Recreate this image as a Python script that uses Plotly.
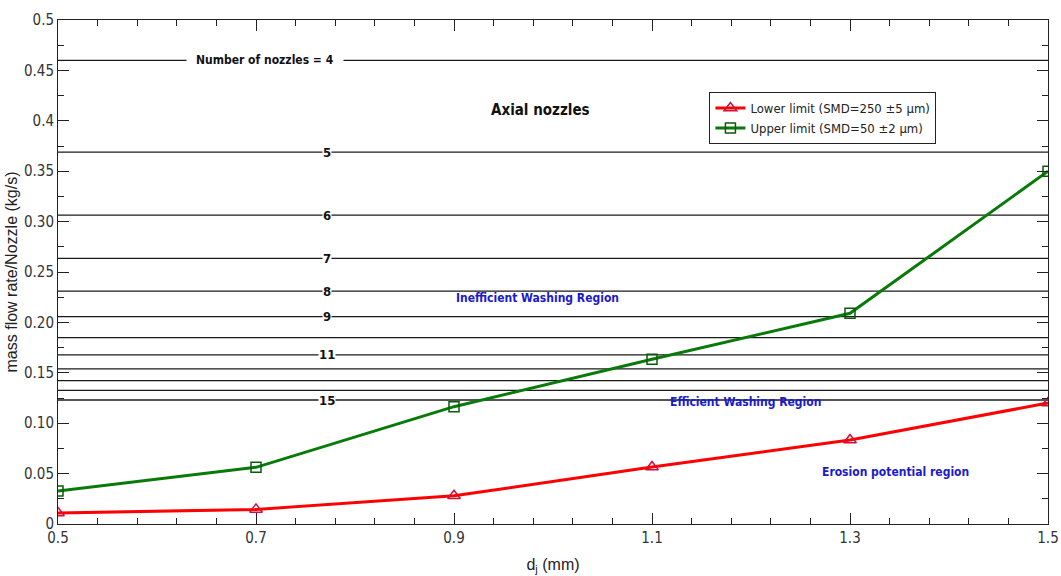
import plotly.graph_objects as go

# Jet diameter (mm)
d_j = [0.5, 0.7, 0.9, 1.1, 1.3, 1.5]

# Mass flow rate per nozzle (kg/s) at the two droplet-size limits
lower_limit = [0.011, 0.0145, 0.028, 0.0565, 0.0833, 0.120]
upper_limit = [0.0327, 0.0562, 0.1164, 0.1634, 0.209, 0.350]

# Flow rate per nozzle for a given number of nozzles
nozzle_counts = [4, 5, 6, 7, 8, 9, 10, 11, 12, 13, 14, 15]
nozzle_flow = [0.460, 0.369, 0.3065, 0.2636, 0.231, 0.2057, 0.1848,
               0.1677, 0.1538, 0.1422, 0.1326, 0.123]
labelled_counts = [5, 6, 7, 8, 9, 11, 15]

x_ticks = [0.5, 0.7, 0.9, 1.1, 1.3, 1.5]
x_ticktext = ["0.5", "0.7", "0.9", "1.1", "1.3", "1.5"]
y_ticks = [0, 0.05, 0.10, 0.15, 0.20, 0.25, 0.30, 0.35, 0.40, 0.45, 0.50]
y_ticktext = ["0", "0.05", "0.10", "0.15", "0.20", "0.25", "0.30", "0.35",
              "0.4", "0.45", "0.5"]

NARROW = "DejaVu Sans Condensed, Liberation Sans Narrow, sans-serif"
SANS = "Liberation Sans, Arial, sans-serif"

fig = go.Figure()

# Horizontal nozzle-count lines
for n, q in zip(nozzle_counts, nozzle_flow):
    fig.add_trace(go.Scatter(
        x=[d_j[0], d_j[-1]], y=[q, q], mode="lines",
        line=dict(color="#1a1a1a", width=1.3),
        showlegend=False, hoverinfo="skip"))

fig.add_trace(go.Scatter(
    x=d_j, y=lower_limit, mode="lines+markers",
    name="Lower limit (SMD=250 \u00b15 \u03bcm)",
    line=dict(color="#ff0000", width=3),
    marker=dict(symbol="triangle-up-open", size=11, color="#d0103a",
                line=dict(width=1.5, color="#d0103a"))))

fig.add_trace(go.Scatter(
    x=d_j, y=upper_limit, mode="lines+markers",
    name="Upper limit (SMD=50 \u00b12 \u03bcm)",
    line=dict(color="#087a08", width=3),
    marker=dict(symbol="square-open", size=10, color="#0a5a0a",
                line=dict(width=1.5, color="#0a5a0a"))))

# Nozzle-count labels
fig.add_annotation(x=0.709, y=nozzle_flow[0], text="<b>Number of nozzles = 4</b>",
                   showarrow=False, bgcolor="white", borderpad=9,
                   font=dict(family=NARROW, size=12, color="#111111"))
for n, q in zip(nozzle_counts, nozzle_flow):
    if n in labelled_counts:
        fig.add_annotation(x=0.772, y=q, text=f"<b>{n}</b>", showarrow=False,
                           bgcolor="white", borderpad=0,
                           font=dict(family=NARROW, size=13, color="#111111"))

fig.add_annotation(x=0.987, y=0.411, text="<b>Axial nozzles</b>", showarrow=False,
                   font=dict(family=NARROW, size=15, color="#111111"))
fig.add_annotation(x=0.984, y=0.2245, text="<b>Inefficient Washing Region</b>",
                   showarrow=False,
                   font=dict(family=NARROW, size=12, color="#1a1acc"))
fig.add_annotation(x=1.194, y=0.121, text="<b>Efficient Washing Region</b>",
                   showarrow=False,
                   font=dict(family=NARROW, size=12, color="#1a1acc"))
fig.add_annotation(x=1.3455, y=0.052, text="<b>Erosion potential region</b>",
                   showarrow=False,
                   font=dict(family=NARROW, size=12, color="#1a1acc"))

fig.update_layout(
    width=1061, height=576,
    margin=dict(l=58, r=13, t=20, b=52, autoexpand=False),
    paper_bgcolor="white", plot_bgcolor="white",
    font=dict(family=NARROW, size=14, color="#222222"),
    legend=dict(x=0.658, y=0.857, xanchor="left", yanchor="top",
                bgcolor="white", bordercolor="#222222", borderwidth=1,
                font=dict(family=NARROW, size=13, color="#222222"),
                tracegroupgap=0, itemwidth=30),
    xaxis=dict(range=[0.5, 1.5], tickvals=x_ticks, ticktext=x_ticktext,
               ticks="inside", ticklen=11, tickwidth=1, tickcolor="#222222",
               showline=True, linecolor="#222222", linewidth=1, mirror="ticks",
               showgrid=False, zeroline=False, automargin=False,
               minor=dict(ticks="inside", ticklen=6, dtick=0.04, tick0=0.5,
                          tickcolor="#222222", showgrid=False),
               title=dict(text="d<sub>j</sub> (mm)", standoff=12,
                          font=dict(family=SANS, size=16, color="#222222")),
               tickfont=dict(family=NARROW, size=15, color="#333333")),
    yaxis=dict(range=[0, 0.5], tickvals=y_ticks, ticktext=y_ticktext,
               ticks="inside", ticklen=11, tickwidth=1, tickcolor="#222222",
               showline=True, linecolor="#222222", linewidth=1, mirror="ticks",
               showgrid=False, zeroline=False, automargin=False,
               minor=dict(ticks="inside", ticklen=6, dtick=0.025, tick0=0,
                          tickcolor="#222222", showgrid=False),
               title=dict(text="mass flow rate/Nozzle (kg/s)", standoff=2,
                          font=dict(family=SANS, size=16, color="#222222")),
               tickfont=dict(family=NARROW, size=15, color="#333333")),
)

fig.write_html("out.html")
